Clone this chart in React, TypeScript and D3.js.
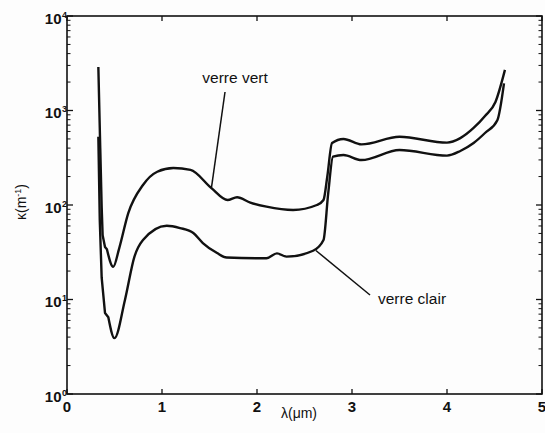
import React from "react";
import * as d3 from "d3";

// wavelength (µm) and absorption coefficient κ (m⁻¹)
const vertLambda = [0.33, 0.35, 0.365, 0.375, 0.40, 0.42, 0.487, 0.55, 0.645, 0.80, 0.95, 1.12, 1.30, 1.52, 1.69, 1.79, 1.93, 2.10, 2.38, 2.63, 2.70, 2.74, 2.79, 2.91, 3.10, 3.50, 4.00, 4.14, 4.28, 4.40, 4.51, 4.61];
const vertKappa = [2890, 400, 95, 48, 36, 34, 22.2, 35, 82, 163, 225, 246, 235, 151, 113, 121, 106, 96, 88.5, 100, 113, 200, 453, 500, 438, 527, 457, 510, 653, 875, 1230, 2690];

const clairLambda = [0.33, 0.345, 0.365, 0.40, 0.435, 0.50, 0.61, 0.71, 0.80, 1.05, 1.19, 1.33, 1.43, 1.58, 1.68, 2.10, 2.21, 2.31, 2.59, 2.70, 2.75, 2.80, 2.91, 3.10, 3.50, 4.00, 4.14, 4.28, 4.40, 4.53, 4.60];
const clairKappa = [527, 69, 17, 7.2, 6.5, 3.9, 9.9, 28.4, 42.6, 60.4, 57, 50.5, 39.6, 31, 27.8, 27.3, 30.8, 28.4, 32.8, 42.6, 134, 325, 338, 299, 382, 333, 373, 453, 578, 790, 1940];

const xTicks = [0, 1, 2, 3, 4, 5];
const yExponents = [0, 1, 2, 3, 4];

// annotations: label and the point on the curve it points at
const labelVert = { text: "verre vert", lambda: 1.52, kappa: 151 };
const labelClair = { text: "verre clair", lambda: 2.62, kappa: 33 };

export default function App() {
  const W = 545, H = 433;
  const left = 67, right = 542, top = 16, bottom = 394;
  const x = d3.scaleLinear().domain([0, 5]).range([left, right]);
  const y = d3.scaleLog().domain([1, 10000]).range([bottom, top]);

  const line = d3.line<[number, number]>()
    .x(d => x(d[0]))
    .y(d => y(d[1]))
    .curve(d3.curveMonotoneX);
  const lineSharp = d3.line<[number, number]>()
    .x(d => x(d[0]))
    .y(d => y(d[1]))
    .curve(d3.curveLinear);

  const vert: [number, number][] = vertLambda.map((l, i) => [l, vertKappa[i]]);
  const clair: [number, number][] = clairLambda.map((l, i) => [l, clairKappa[i]]);

  const minorTicks: number[] = [];
  for (let e = 0; e < 4; e++) for (let m = 2; m <= 9; m++) minorTicks.push(m * Math.pow(10, e));

  const font = "'Liberation Sans', Arial, Helvetica, sans-serif";

  const vx = x(labelVert.lambda), vy = y(labelVert.kappa);
  const cx = x(labelClair.lambda), cy = y(labelClair.kappa);

  return (
    <svg width={W} height={H} style={{ position: "absolute", left: 0, top: 0, background: "#fdfdfd" }}>
      <rect x={0} y={0} width={W} height={H} fill="#fdfdfd" />
      {/* frame */}
      <rect x={left} y={top} width={right - left} height={bottom - top} fill="none" stroke="#111" strokeWidth={1.6} />
      {/* x ticks */}
      {xTicks.map(t => (
        <g key={"xt" + t}>
          <line x1={x(t)} x2={x(t)} y1={bottom} y2={bottom - 5} stroke="#111" strokeWidth={1.3} />
          <line x1={x(t)} x2={x(t)} y1={top} y2={top + 5} stroke="#111" strokeWidth={1.3} />
          <text x={x(t)} y={412} textAnchor="middle" fontFamily={font} fontWeight="bold" fontSize={15} fill="#111">{t}</text>
        </g>
      ))}
      {/* y major ticks */}
      {yExponents.map(e => (
        <g key={"ye" + e}>
          <line x1={left} x2={left + 6} y1={y(Math.pow(10, e))} y2={y(Math.pow(10, e))} stroke="#111" strokeWidth={1.3} />
          <line x1={right} x2={right - 6} y1={y(Math.pow(10, e))} y2={y(Math.pow(10, e))} stroke="#111" strokeWidth={1.3} />
          <text x={61.5} y={y(Math.pow(10, e)) + 7.5} textAnchor="end" fontFamily={font} fontWeight="bold" fontSize={15} fill="#111">10</text>
          <text x={62} y={y(Math.pow(10, e)) + 1.5} textAnchor="start" fontFamily={font} fontWeight="bold" fontSize={9} fill="#111">{e}</text>
        </g>
      ))}
      {/* y minor ticks */}
      {minorTicks.map(v => (
        <g key={"ym" + v}>
          <line x1={left} x2={left + 3.5} y1={y(v)} y2={y(v)} stroke="#111" strokeWidth={1} />
          <line x1={right} x2={right - 3.5} y1={y(v)} y2={y(v)} stroke="#111" strokeWidth={1} />
        </g>
      ))}
      {/* curves */}
      <path d={lineSharp(vert.slice(0, 6)) + (line(vert.slice(5)) || "").replace(/^M/, "L")} fill="none" stroke="#111" strokeWidth={2.4} strokeLinejoin="round" />
      <path d={lineSharp(clair.slice(0, 5)) + (line(clair.slice(4)) || "").replace(/^M/, "L")} fill="none" stroke="#111" strokeWidth={2.4} strokeLinejoin="round" />
      {/* annotations */}
      <line x1={vx} y1={vy} x2={225} y2={92} stroke="#111" strokeWidth={1.5} />
      <text x={235} y={83} textAnchor="middle" fontFamily={font} fontSize={15.5} fill="#111">{labelVert.text}</text>
      <line x1={cx} y1={cy} x2={370} y2={295} stroke="#111" strokeWidth={1.5} />
      <text x={378} y={304} textAnchor="start" fontFamily={font} fontSize={15.5} fill="#111">{labelClair.text}</text>
      {/* axis labels */}
      <text x={299} y={418} textAnchor="middle" fontFamily={font} fontSize={14} fill="#111">λ(μm)</text>
      <text transform="translate(26,202) rotate(-90)" textAnchor="middle" fontFamily={font} fontSize={14} fill="#111">
        κ(m<tspan dy={-5} fontSize={9}>-1</tspan><tspan dy={5}>)</tspan>
      </text>
    </svg>
  );
}
